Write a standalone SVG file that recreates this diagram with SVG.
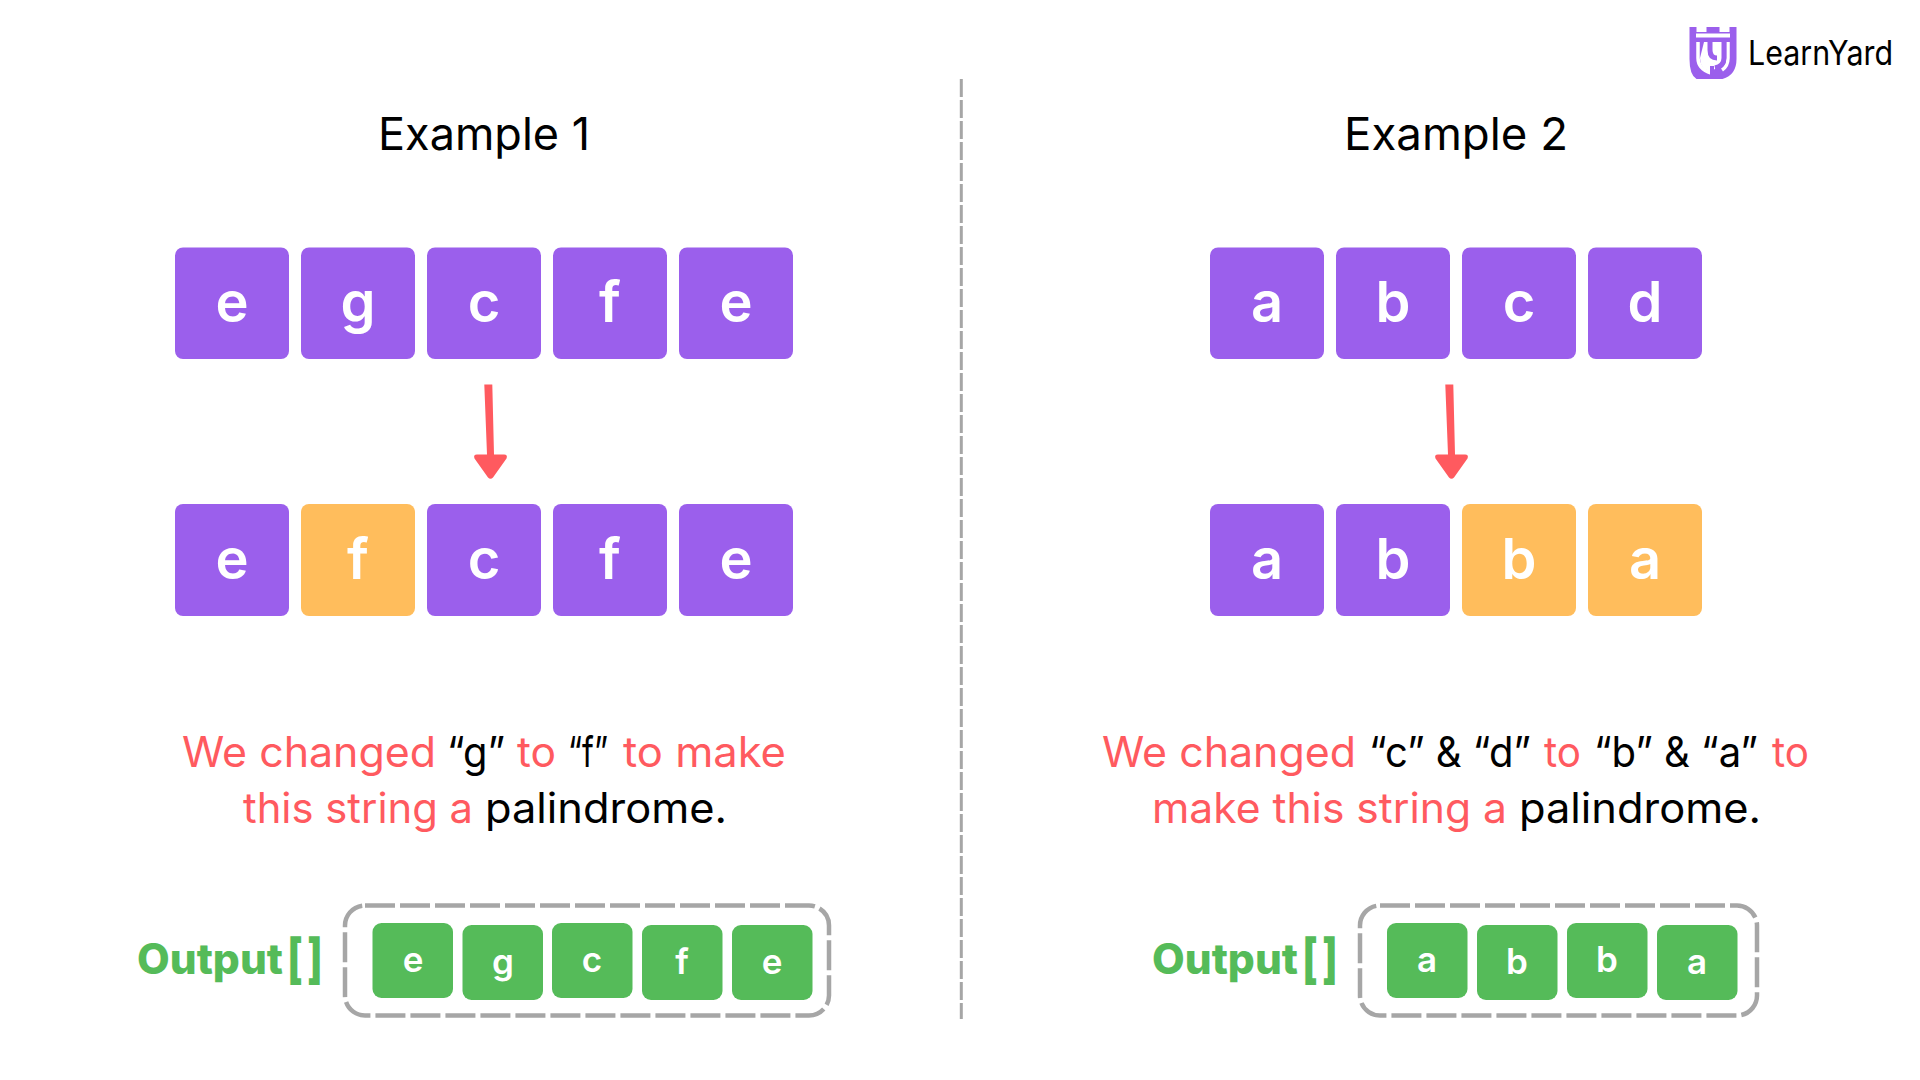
<svg xmlns="http://www.w3.org/2000/svg" width="1920" height="1080" viewBox="0 0 1920 1080">
<style>
text{font-family:"Inter","Noto Sans","Liberation Sans",sans-serif}
.p{fill:#9b5fec}.o{fill:#ffbd5c}.g{fill:#55bb59}
.l{fill:#fff;font-size:56px;font-weight:600;text-anchor:middle}
.s{fill:#fff;font-size:35px;font-weight:600;text-anchor:middle}
.t{fill:#000;font-size:45px;text-anchor:middle}
.b{font-size:42px}.r{fill:#ff5a5f}.k{fill:#000}
.out{fill:#55bb59;font-size:42px;font-weight:800}
.br{font-size:54px;font-weight:800}
.dash{fill:none;stroke:#a6a6a6;stroke-width:4.500;stroke-dasharray:30 5}
</style>
<defs>
<rect id="c" width="114" height="112" rx="8"/>
<rect id="c1" width="114" height="111.500" rx="8"/>
<rect id="m" width="80.500" height="75" rx="9"/>
</defs>
<rect width="1920" height="1080" fill="#fff"/>
<g id="logo">
<path class="p" d="M1689.500 27h7v5h10v-5h13v5h10v-5h7v32q0 16-14 20h-26q-7-4-7-20z"/>
<path d="M1696 35.500h34" stroke="#fff" stroke-width="4" fill="none"/>
<path d="M1698 42v16q0 11 13 15M1728 42v16q0 8-6 12" stroke="#fff" stroke-width="3.500" fill="none"/>
<path d="M1704 42h20v16q0 6-5 9l-8 4h-2q-9-3-9-13z" fill="#fff"/>
<path d="M1710 41v9q0 8 7 8M1724 41v17q0 8-9 10" stroke="#9b5fec" stroke-width="5" fill="none"/>
<path d="M1712 66v12" stroke="#9b5fec" stroke-width="4" fill="none"/>
<text x="1748" y="65" font-size="34" fill="#000" textLength="145" lengthAdjust="spacingAndGlyphs">LearnYard</text>
</g>
<g id="connectors">
<path id="divider" d="M961.300 79V1019" fill="none" stroke="#a6a6a6" stroke-width="3" stroke-dasharray="18 3"/>
<g fill="#ff5a5f">
<path id="arrow1" d="M484.300 384.500h8l1.700 70h10q4 0 2.500 4l-13.500 19q-2.500 2.500-5 0l-13.500-19q-1.500-4 2.500-4h10z"/>
<path id="arrow2" d="M1445.300 384.500h8l1.700 70h10q4 0 2.500 4l-13.500 19q-2.500 2.500-5 0l-13.500-19q-1.500-4 2.500-4h10z"/>
</g>
</g>
<text id="title1" class="t" x="484" y="150" textLength="212" lengthAdjust="spacingAndGlyphs">Example 1</text>
<text id="title2" class="t" x="1456" y="150" textLength="224" lengthAdjust="spacingAndGlyphs">Example 2</text>
<g id="ex1-input">
<g id="n1-0"><use href="#c1" class="p" x="175" y="247.500"/><text class="l" x="232" y="322">e</text></g>
<g id="n1-1"><use href="#c1" class="p" x="301" y="247.500"/><text class="l" x="358" y="322">g</text></g>
<g id="n1-2"><use href="#c1" class="p" x="427" y="247.500"/><text class="l" x="484" y="322">c</text></g>
<g id="n1-3"><use href="#c1" class="p" x="553" y="247.500"/><text class="l" x="610" y="322">f</text></g>
<g id="n1-4"><use href="#c1" class="p" x="679" y="247.500"/><text class="l" x="736" y="322">e</text></g>
</g>
<g id="ex1-result">
<g id="n2-0"><use href="#c" class="p" x="175" y="504"/><text class="l" x="232" y="579">e</text></g>
<g id="n2-1"><use href="#c" class="o" x="301" y="504"/><text class="l" x="358" y="579">f</text></g>
<g id="n2-2"><use href="#c" class="p" x="427" y="504"/><text class="l" x="484" y="579">c</text></g>
<g id="n2-3"><use href="#c" class="p" x="553" y="504"/><text class="l" x="610" y="579">f</text></g>
<g id="n2-4"><use href="#c" class="p" x="679" y="504"/><text class="l" x="736" y="579">e</text></g>
</g>
<g id="ex2-input">
<g id="n3-0"><use href="#c1" class="p" x="1210" y="247.500"/><text class="l" x="1267" y="322">a</text></g>
<g id="n3-1"><use href="#c1" class="p" x="1336" y="247.500"/><text class="l" x="1393" y="322">b</text></g>
<g id="n3-2"><use href="#c1" class="p" x="1462" y="247.500"/><text class="l" x="1519" y="322">c</text></g>
<g id="n3-3"><use href="#c1" class="p" x="1588" y="247.500"/><text class="l" x="1645" y="322">d</text></g>
</g>
<g id="ex2-result">
<g id="n4-0"><use href="#c" class="p" x="1210" y="504"/><text class="l" x="1267" y="579">a</text></g>
<g id="n4-1"><use href="#c" class="p" x="1336" y="504"/><text class="l" x="1393" y="579">b</text></g>
<g id="n4-2"><use href="#c" class="o" x="1462" y="504"/><text class="l" x="1519" y="579">b</text></g>
<g id="n4-3"><use href="#c" class="o" x="1588" y="504"/><text class="l" x="1645" y="579">a</text></g>
</g>
<text id="desc1a" class="b" y="767"><tspan class="r" x="182" textLength="254" lengthAdjust="spacingAndGlyphs">We changed</tspan><tspan class="k" x="447" textLength="58" lengthAdjust="spacingAndGlyphs">“g”</tspan><tspan class="r" x="517" textLength="39" lengthAdjust="spacingAndGlyphs">to</tspan><tspan class="k" x="568" textLength="40" lengthAdjust="spacingAndGlyphs">“f”</tspan><tspan class="r" x="623" textLength="163" lengthAdjust="spacingAndGlyphs">to make</tspan></text>
<text id="desc1b" class="b" y="823"><tspan class="r" x="243" textLength="230" lengthAdjust="spacingAndGlyphs">this string a</tspan><tspan class="k" x="485" textLength="242" lengthAdjust="spacingAndGlyphs">palindrome.</tspan></text>
<text id="desc2a" class="b" y="767"><tspan class="r" x="1102" textLength="254" lengthAdjust="spacingAndGlyphs">We changed</tspan><tspan class="k" x="1369" textLength="162" lengthAdjust="spacingAndGlyphs">“c” &amp; “d”</tspan><tspan class="r" x="1544" textLength="37" lengthAdjust="spacingAndGlyphs">to</tspan><tspan class="k" x="1594" textLength="164" lengthAdjust="spacingAndGlyphs">“b” &amp; “a”</tspan><tspan class="r" x="1772" textLength="37" lengthAdjust="spacingAndGlyphs">to</tspan></text>
<text id="desc2b" class="b" y="823"><tspan class="r" x="1152" textLength="355" lengthAdjust="spacingAndGlyphs">make this string a</tspan><tspan class="k" x="1519" textLength="242" lengthAdjust="spacingAndGlyphs">palindrome.</tspan></text>
<g id="output1">
<text class="out" x="137" y="974"><tspan x="137" textLength="146" lengthAdjust="spacingAndGlyphs">Output</tspan><tspan class="br" x="287" y="978" textLength="16" lengthAdjust="spacingAndGlyphs">[</tspan><tspan class="br" x="307" y="978" textLength="16" lengthAdjust="spacingAndGlyphs">]</tspan></text>
<rect class="dash" x="345" y="905.500" width="484" height="110" rx="20"/>
<g id="o1-0"><use href="#m" class="g" x="372.500" y="923"/><text class="s" x="413" y="972">e</text></g>
<g id="o1-1"><use href="#m" class="g" x="462.500" y="925"/><text class="s" x="503" y="974">g</text></g>
<g id="o1-2"><use href="#m" class="g" x="552" y="923"/><text class="s" x="592" y="972">c</text></g>
<g id="o1-3"><use href="#m" class="g" x="642" y="925"/><text class="s" x="682" y="974">f</text></g>
<g id="o1-4"><use href="#m" class="g" x="732" y="925"/><text class="s" x="772" y="974">e</text></g>
</g>
<g id="output2">
<text class="out" x="1152" y="974"><tspan x="1152" textLength="146" lengthAdjust="spacingAndGlyphs">Output</tspan><tspan class="br" x="1302" y="978" textLength="16" lengthAdjust="spacingAndGlyphs">[</tspan><tspan class="br" x="1322" y="978" textLength="16" lengthAdjust="spacingAndGlyphs">]</tspan></text>
<rect class="dash" x="1360" y="905.500" width="397" height="110" rx="20"/>
<g id="o2-0"><use href="#m" class="g" x="1387" y="923"/><text class="s" x="1427" y="972">a</text></g>
<g id="o2-1"><use href="#m" class="g" x="1477" y="925"/><text class="s" x="1517" y="974">b</text></g>
<g id="o2-2"><use href="#m" class="g" x="1567" y="923"/><text class="s" x="1607" y="972">b</text></g>
<g id="o2-3"><use href="#m" class="g" x="1657" y="925"/><text class="s" x="1697" y="974">a</text></g>
</g>
</svg>
